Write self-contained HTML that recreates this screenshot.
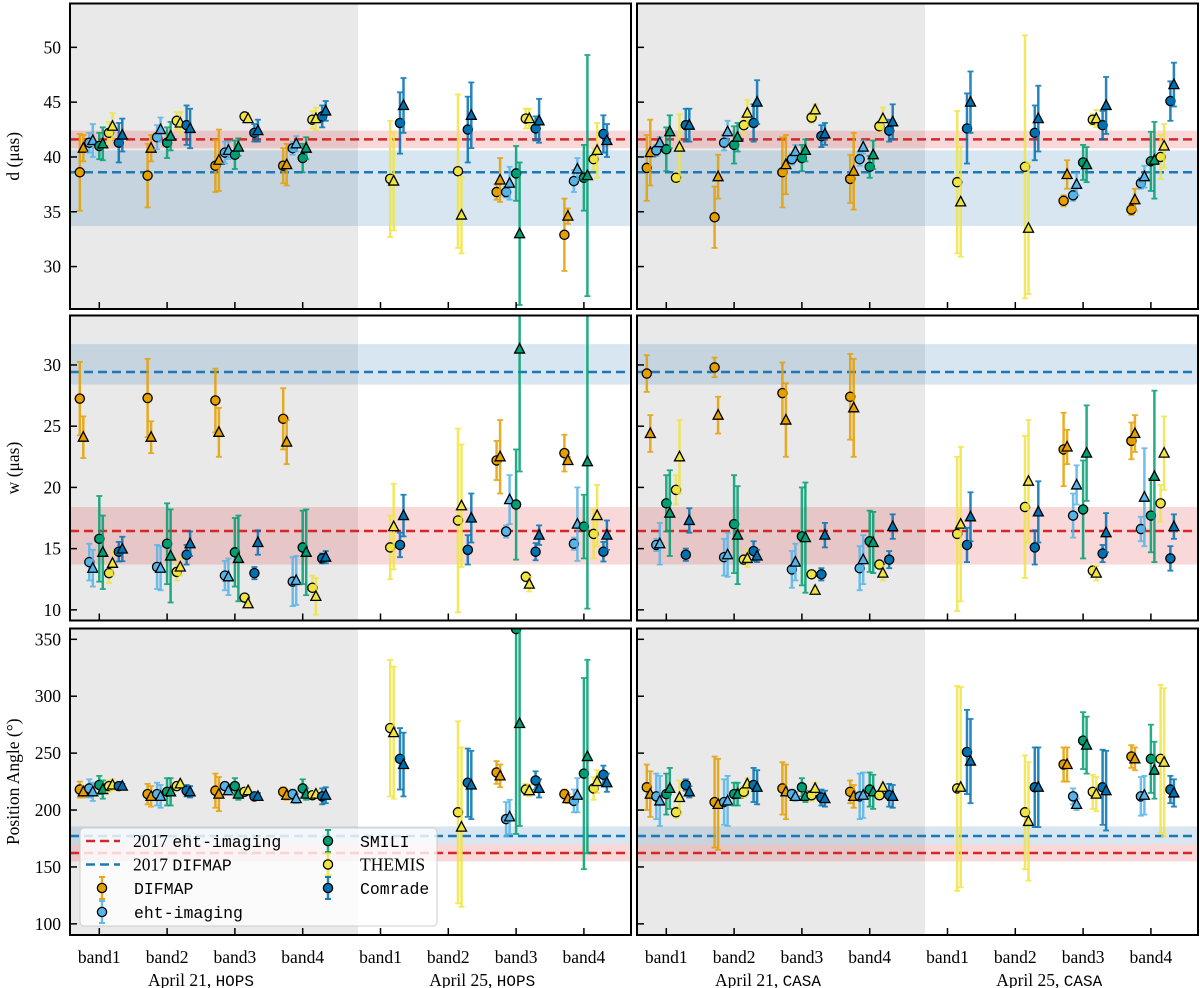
<!DOCTYPE html>
<html><head><meta charset="utf-8"><style>
html,body{margin:0;padding:0;background:#fff}
svg{display:block}
text{font-family:"Liberation Serif",serif;fill:#000}
.mono{font-family:"Liberation Mono",monospace}
</style></head><body>
<svg id="chart" width="1200" height="988" viewBox="0 0 1200 988" xmlns="http://www.w3.org/2000/svg"></svg>
<script>
// ---- data: band categories ----
const bandLabels = ["band1","band2","band3","band4","band1","band2","band3","band4"];
const dayLabels = ["April 21, ","April 25, "];
const pipelines = ["DIFMAP","eht-imaging","SMILI","THEMIS","Comrade"];
const yTicksD = [30,35,40,45,50];
const yTicksW = [10,15,20,25,30];
const yTicksPA = [100,150,200,250,300,350];
// reference 2017 values [line, lo, hi]
const refEhtD = [41.6,40.8,42.4];
const refDifD = [38.6,33.7,40.6];
const refEhtW = [16.44,13.7,18.4];
const refDifW = [29.43,28.4,31.7];
const refEhtPA = [162.2,154.9,170.1];
const refDifPA = [177.2,170.1,185.6];

// ---- d, HOPS ----
const dH_difmap_c=[38.6,38.3,39.2,39.2,null,null,36.8,32.9], dH_difmap_ce=[3.5,2.9,2.4,1.6,0,0,0.7,3.3];
const dH_difmap_t=[40.8,40.8,39.7,39.3,null,null,37.9,34.6], dH_difmap_te=[1.2,1.2,2.8,1.9,0,0,2,0.7];
const dH_eht_c=[41.3,41.8,40.4,40.8,null,null,36.8,37.8], dH_eht_ce=[0.9,1.1,1,0.6,0,0,0.5,1];
const dH_eht_t=[41.5,42.5,40.6,41.2,null,null,37.6,38.9], dH_eht_te=[1.5,1.1,0.8,0.7,0,0,1.5,1];
const dH_smili_c=[41.0,41.3,40.2,39.9,null,null,38.5,38.1], dH_smili_ce=[1.2,1.4,1.3,1.3,0,0,2.5,3];
const dH_smili_t=[41.2,41.9,40.9,40.8,null,null,33.0,38.3], dH_smili_te=[1.5,1.3,0.8,1,0,0,6.5,11];
const dH_themis_c=[42.2,43.3,43.7,43.4,38.0,38.7,43.5,39.8], dH_themis_ce=[1,0.8,0.2,0.8,5.3,7,0.9,1];
const dH_themis_t=[42.8,43.1,43.5,43.5,37.8,34.7,43.5,40.6], dH_themis_te=[1.2,1,0.3,1,4.5,3.5,0.9,2.5];
const dH_comrade_c=[41.3,42.9,42.2,43.7,43.1,42.5,42.6,42.1], dH_comrade_ce=[1.8,1.8,0.8,1,2.8,3,1.1,1.7];
const dH_comrade_t=[42.0,42.6,42.4,44.2,44.7,43.8,43.3,41.5], dH_comrade_te=[1.5,1.8,1.0,0.9,2.5,3,2,1.5];
// ---- d, CASA ----
const dC_difmap_c=[39.0,34.5,38.6,38.0,null,null,36.0,35.2], dC_difmap_ce=[3,2.8,3.2,2.2,0,0,0.5,0.5];
const dC_difmap_t=[40.4,38.2,39.3,38.7,null,null,38.4,36.1], dC_difmap_te=[3,2,2.7,3.5,0,0,1.3,1];
const dC_eht_c=[40.6,41.3,39.8,39.8,null,null,36.5,37.6], dC_eht_ce=[0.5,0.7,0.5,0.6,0,0,0.5,0.5];
const dC_eht_t=[41.3,42.3,40.5,40.9,null,null,37.5,38.2], dC_eht_te=[0.5,1,0.6,0.6,0,0,1,1];
const dC_smili_c=[40.7,41.1,39.9,39.1,null,null,39.5,39.6], dC_smili_ce=[2,1.7,1.2,1,0,0,1.6,2.7];
const dC_smili_t=[42.3,41.8,40.6,40.2,null,null,39.3,39.7], dC_smili_te=[1.5,1.3,1,1.3,0,0,1.6,3.5];
const dC_themis_c=[38.1,42.9,43.6,42.8,37.7,39.1,43.4,40.0], dC_themis_ce=[0.5,0.8,0.5,0.5,6.5,12,0.5,2];
const dC_themis_t=[40.9,44.0,44.3,43.5,35.9,33.5,43.5,41.0], dC_themis_te=[3,1.2,0.5,1,5,6,0.8,2];
const dC_comrade_c=[42.9,43.1,41.9,42.4,42.6,42.2,42.9,45.1], dC_comrade_ce=[1.5,1.7,1,1,3.2,2.5,1.3,1.8];
const dC_comrade_t=[42.9,45.0,42.1,43.2,45.0,43.5,44.7,46.6], dC_comrade_te=[1.5,2,1,1.6,2.8,3,2.6,2];
// ---- w, HOPS ----
const wH_difmap_c=[27.25,27.3,27.1,25.6,null,null,22.2,22.8], wH_difmap_ce=[3,3.2,2.6,2.5,0,0,1.6,1.5];
const wH_difmap_t=[24.1,24.1,24.5,23.7,null,null,22.5,22.2], wH_difmap_te=[1.7,1.3,2,1.8,0,0,3,0.3];
const wH_eht_c=[13.9,13.5,12.8,12.3,null,null,16.4,15.4], wH_eht_ce=[1.5,1.8,1.2,2,0,0,0.5,0.5];
const wH_eht_t=[13.4,13.4,12.7,12.4,null,null,19.0,17.0], wH_eht_te=[1.5,1.8,1.5,2,0,0,2,3];
const wH_smili_c=[15.8,15.4,14.7,15.1,null,null,18.6,16.8], wH_smili_ce=[3.5,3.3,2.8,3,0,0,4.5,2.6];
const wH_smili_t=[14.7,14.4,14.2,14.7,null,null,31.3,22.1], wH_smili_te=[3,3.8,3.5,3.5,0,0,10,12];
const wH_themis_c=[13.0,13.1,11.0,11.8,15.1,17.3,12.7,16.2], wH_themis_ce=[0.8,0.7,0.3,1,2.6,7.5,0.4,2];
const wH_themis_t=[13.8,13.5,10.5,11.1,16.8,18.5,12.1,17.7], wH_themis_te=[1,0.7,0.3,1.5,3.5,5,0.6,2.5];
const wH_comrade_c=[14.75,14.5,13.0,14.2,15.3,14.9,14.75,14.75], wH_comrade_ce=[0.8,0.8,0.5,0.4,1,1.2,0.7,0.8];
const wH_comrade_t=[14.97,15.4,15.5,14.3,17.7,17.5,16.1,16.1], wH_comrade_te=[1,1,1,0.5,1.7,2,0.8,1.2];
// ---- w, CASA ----
const wC_difmap_c=[29.3,29.8,27.7,27.4,null,null,23.1,23.8], wC_difmap_ce=[1.5,0.8,2.5,3.5,0,0,3,1.5];
const wC_difmap_t=[24.4,25.9,25.5,26.5,null,null,23.3,24.4], wC_difmap_te=[1.5,1.5,3,4,0,0,1.4,1.5];
const wC_eht_c=[15.3,14.3,13.3,13.4,null,null,17.7,16.6], wC_eht_ce=[0.5,1.5,1.5,1.8,0,0,1.8,1];
const wC_eht_t=[15.4,14.5,13.9,14.1,null,null,20.2,19.2], wC_eht_te=[1.7,1.8,1.5,2,0,0,1.6,4];
const wC_smili_c=[18.7,17.0,16.0,15.6,null,null,18.2,17.7], wC_smili_ce=[2.3,4,4,2.5,0,0,4,3];
const wC_smili_t=[17.9,16.1,15.9,15.5,null,null,22.8,20.9], wC_smili_te=[3.5,4,4.5,2.5,0,0,3.9,7];
const wC_themis_c=[19.8,14.1,12.9,13.7,16.2,18.4,13.2,18.7], wC_themis_ce=[1.2,0.3,0.2,0.3,6.3,5.8,0.4,1.5];
const wC_themis_t=[22.5,14.2,11.6,13.0,17.0,20.5,13.0,22.8], wC_themis_te=[3,0.7,0.3,0.6,6.3,5,0.6,3];
const wC_comrade_c=[14.5,14.8,12.9,14.1,15.3,15.1,14.6,14.2], wC_comrade_ce=[0.5,0.8,0.5,0.7,1.4,1.4,0.7,1];
const wC_comrade_t=[17.3,14.4,16.1,16.8,17.6,18.0,16.3,16.8], wC_comrade_te=[1,0.5,1,1,2,2.5,1.6,1];
// ---- PA, HOPS ----
const pH_difmap_c=[218,214,217,216,null,null,233,214], pH_difmap_ce=[7,9,15,4,0,0,10,4];
const pH_difmap_t=[216,212,214,213,null,null,230,210], pH_difmap_te=[5,9,15,4,0,0,10,4];
const pH_eht_c=[219,214,221,214,null,null,192,208], pH_eht_ce=[8,10,3,4,0,0,15,10];
const pH_eht_t=[216,212,217,210,null,null,194,213], pH_eht_te=[8,10,3,4,0,0,15,15];
const pH_smili_c=[222,216,221,219,null,null,359,232], pH_smili_ce=[8,12,7,8,0,0,180,84];
const pH_smili_t=[218,216,214,214,null,null,276,247], pH_smili_te=[8,12,5,5,0,0,90,85];
const pH_themis_c=[221,221,216,213,272,198,218,219], pH_themis_ce=[5,3,3,3,60,80,5,10];
const pH_themis_t=[222,223,217,214,268,185,217,225], pH_themis_te=[5,3,3,3,58,70,5,10];
const pH_comrade_c=[221,217,212,212,245,224,226,231], pH_comrade_ce=[2,5,3,7,27,30,8,8];
const pH_comrade_t=[221,216,212,213,240,222,219,224], pH_comrade_te=[2,5,3,7,28,30,8,8];
// ---- PA, CASA ----
const pC_difmap_c=[220,207,219,216,null,null,240,247], pC_difmap_ce=[20,40,23,10,0,0,15,10];
const pC_difmap_t=[214,205,216,212,null,null,240,245], pC_difmap_te=[20,40,24,10,0,0,15,10];
const pC_eht_c=[212,207,214,212,null,null,212,212], pC_eht_ce=[20,20,4,20,0,0,7,17];
const pC_eht_t=[208,208,212,213,null,null,205,213], pC_eht_te=[22,22,4,20,0,0,5,17];
const pC_smili_c=[214,214,220,218,null,null,261,245], pC_smili_ce=[18,10,8,15,0,0,25,30];
const pC_smili_t=[219,214,212,216,null,null,257,235], pC_smili_te=[18,10,5,15,0,0,25,25];
const pC_themis_c=[198,216,213,213,219,198,216,245], pC_themis_ce=[5,5,5,3,90,50,15,65];
const pC_themis_t=[211,223,219,220,220,190,214,242], pC_themis_te=[15,5,5,3,88,52,15,65];
const pC_comrade_c=[222,222,211,213,251,220,220,218], pC_comrade_ce=[5,15,7,10,37,35,33,12];
const pC_comrade_t=[216,220,210,212,243,220,217,215], pC_comrade_te=[5,15,7,10,37,35,35,12];

// ---- layout ----
const NS="http://www.w3.org/2000/svg";
const svg=document.getElementById('chart');
const colors=["#E69F00","#56B4E9","#009E73","#F0E442","#0072B2"];
const offs=[-19.5,-10,0,9.7,19.5];
const colX=[70,637], panelW=561;
const rows=[{top:3.5,bot:309,min:26.13,max:54,ticks:yTicksD,eht:refEhtD,dif:refDifD,label:"d (\u03bcas)",key:"d"},
            {top:315.5,bot:620.5,min:9.13,max:34.04,ticks:yTicksW,eht:refEhtW,dif:refDifW,label:"w (\u03bcas)",key:"w"},
            {top:628.5,bot:935,min:90.2,max:359.5,ticks:yTicksPA,eht:refEhtPA,dif:refDifPA,label:"Position Angle (\u00b0)",key:"pa"}];
const series={
 "d0":[[dH_difmap_c,dH_difmap_ce,dH_difmap_t,dH_difmap_te],[dH_eht_c,dH_eht_ce,dH_eht_t,dH_eht_te],[dH_smili_c,dH_smili_ce,dH_smili_t,dH_smili_te],[dH_themis_c,dH_themis_ce,dH_themis_t,dH_themis_te],[dH_comrade_c,dH_comrade_ce,dH_comrade_t,dH_comrade_te]],
 "d1":[[dC_difmap_c,dC_difmap_ce,dC_difmap_t,dC_difmap_te],[dC_eht_c,dC_eht_ce,dC_eht_t,dC_eht_te],[dC_smili_c,dC_smili_ce,dC_smili_t,dC_smili_te],[dC_themis_c,dC_themis_ce,dC_themis_t,dC_themis_te],[dC_comrade_c,dC_comrade_ce,dC_comrade_t,dC_comrade_te]],
 "w0":[[wH_difmap_c,wH_difmap_ce,wH_difmap_t,wH_difmap_te],[wH_eht_c,wH_eht_ce,wH_eht_t,wH_eht_te],[wH_smili_c,wH_smili_ce,wH_smili_t,wH_smili_te],[wH_themis_c,wH_themis_ce,wH_themis_t,wH_themis_te],[wH_comrade_c,wH_comrade_ce,wH_comrade_t,wH_comrade_te]],
 "w1":[[wC_difmap_c,wC_difmap_ce,wC_difmap_t,wC_difmap_te],[wC_eht_c,wC_eht_ce,wC_eht_t,wC_eht_te],[wC_smili_c,wC_smili_ce,wC_smili_t,wC_smili_te],[wC_themis_c,wC_themis_ce,wC_themis_t,wC_themis_te],[wC_comrade_c,wC_comrade_ce,wC_comrade_t,wC_comrade_te]],
 "pa0":[[pH_difmap_c,pH_difmap_ce,pH_difmap_t,pH_difmap_te],[pH_eht_c,pH_eht_ce,pH_eht_t,pH_eht_te],[pH_smili_c,pH_smili_ce,pH_smili_t,pH_smili_te],[pH_themis_c,pH_themis_ce,pH_themis_t,pH_themis_te],[pH_comrade_c,pH_comrade_ce,pH_comrade_t,pH_comrade_te]],
 "pa1":[[pC_difmap_c,pC_difmap_ce,pC_difmap_t,pC_difmap_te],[pC_eht_c,pC_eht_ce,pC_eht_t,pC_eht_te],[pC_smili_c,pC_smili_ce,pC_smili_t,pC_smili_te],[pC_themis_c,pC_themis_ce,pC_themis_t,pC_themis_te],[pC_comrade_c,pC_comrade_ce,pC_comrade_t,pC_comrade_te]]
};
function el(tag,attrs,parent){const e=document.createElementNS(NS,tag);for(const k in attrs)e.setAttribute(k,attrs[k]);(parent||svg).appendChild(e);return e;}
function xBand(col,i){return colX[col]+(i<4?29.3+67.8*i:310.5+67.8*(i-4));}

const defs=el('defs',{});
rows.forEach((r,ri)=>{
 const yS=v=>r.bot-(v-r.min)/(r.max-r.min)*(r.bot-r.top);
 for(let c=0;c<2;c++){
  const x0=colX[c];
  const cp=el('clipPath',{id:'clip'+ri+c},defs);
  el('rect',{x:x0,y:r.top,width:panelW,height:r.bot-r.top},cp);
  const g=el('g',{'clip-path':'url(#clip'+ri+c+')'});
  
  
  const gray=el('rect',{x:x0,y:r.top,width:288,height:r.bot-r.top,fill:'#e9e9e9'},g);
  
  
  const bb=el('rect',{x:x0,y:yS(r.dif[2]),width:panelW,height:yS(r.dif[1])-yS(r.dif[2]),fill:'rgba(31,119,180,0.18)'},g);
  
  
  const rb=el('rect',{x:x0,y:yS(r.eht[2]),width:panelW,height:yS(r.eht[1])-yS(r.eht[2]),fill:'rgba(214,39,40,0.18)'},g);
  
  
  const rl=el('line',{x1:x0,x2:x0+panelW,y1:yS(r.eht[0]),y2:yS(r.eht[0]),stroke:'#d62728','stroke-width':2.5,'stroke-dasharray':'9,5'},g);
  
  
  const bl=el('line',{x1:x0,x2:x0+panelW,y1:yS(r.dif[0]),y2:yS(r.dif[0]),stroke:'#1f77b4','stroke-width':2.5,'stroke-dasharray':'9,5'},g);
  
  
  const S=series[r.key+c];
  S.forEach((p,pi)=>{
   for(let b=0;b<8;b++){
    for(let m=0;m<2;m++){
     const v=p[m*2][b]; if(v===null||v===undefined) continue;
     const e=p[m*2+1][b];
     const x=xBand(c,b)+offs[pi]+(m?3.5:0);
     const eg=el('g',{stroke:colors[pi],'stroke-width':2.5,opacity:0.85},g);
     
     
     el('line',{x1:x,x2:x,y1:yS(v-e),y2:yS(v+e)},eg);
     el('line',{x1:x-3,x2:x+3,y1:yS(v-e),y2:yS(v-e),'stroke-width':1.8},eg);
     el('line',{x1:x-3,x2:x+3,y1:yS(v+e),y2:yS(v+e),'stroke-width':1.8},eg);
     const y=yS(v); let mk;
     if(m===0) mk=el('circle',{cx:x,cy:y,r:4.6,fill:colors[pi],stroke:'#000','stroke-width':1.3},g);
     else mk=el('polygon',{points:`${x},${y-5.5} ${x-5},${y+4} ${x+5},${y+4}`,fill:colors[pi],stroke:'#000','stroke-width':1.3},g);
     
     
    }
   }
  });
  // ticks
  r.ticks.forEach(t=>{
   const y=yS(t);
   el('line',{x1:x0,x2:x0+7,y1:y,y2:y,stroke:'#000','stroke-width':1.5});
   if(c===0){const tx=el('text',{x:x0-9,y:y+6,'text-anchor':'end','font-size':17.5});tx.textContent=t;
    
    }
  });
  for(let b=0;b<8;b++){const x=xBand(c,b);el('line',{x1:x,x2:x,y1:r.bot,y2:r.bot-7,stroke:'#000','stroke-width':1.5});}
  const fr=el('rect',{x:x0,y:r.top,width:panelW,height:r.bot-r.top,fill:'none',stroke:'#000','stroke-width':2});
  
  
 }
 const yl=el('text',{x:0,y:0,'text-anchor':'middle','font-size':17.5,transform:`translate(19,${(r.top+r.bot)/2}) rotate(-90)`});
 yl.textContent=r.label;
 
 
});
// x labels
for(let c=0;c<2;c++){
 for(let b=0;b<8;b++){
  const t=el('text',{x:xBand(c,b),y:963,'text-anchor':'middle','font-size':17.5});t.textContent=bandLabels[b];
  
  
 }
 for(let d=0;d<2;d++){
  const cx=(xBand(c,d*4)+xBand(c,d*4+3))/2;
  const t=el('text',{x:cx,y:986,'text-anchor':'middle','font-size':17.5});
  
  
  const s1=el('tspan',{},t);s1.textContent=dayLabels[d];
  const s2=el('tspan',{class:'mono','font-size':16},t);s2.textContent=c?'CASA':'HOPS';
 }
}
// legend
const lg=el('g',{});


el('rect',{x:80,y:828,width:357,height:98,rx:4,fill:'rgba(255,255,255,0.8)',stroke:'#cccccc','stroke-width':1},lg);
const lrows=[841,864.5,888,912];
[['#d62728','2017 ','eht-imaging'],['#1f77b4','2017 ','DIFMAP']].forEach((it,i)=>{
 const y=lrows[i];
 const ln=el('line',{x1:86,x2:120,y1:y,y2:y,stroke:it[0],'stroke-width':2.5,'stroke-dasharray':'9,5'},lg);
 
 
 const t=el('text',{x:133,y:y+6,'font-size':17.5},lg);
 const a=el('tspan',{},t);a.textContent=it[1];
 const b=el('tspan',{class:'mono','font-size':16.5},t);b.textContent=it[2];
 
 
});
const legPos=[[102,lrows[2]],[102,lrows[3]],[328,lrows[0]],[328,lrows[1]],[328,lrows[2]]];
pipelines.forEach((p,pi)=>{
 const [x,y]=legPos[pi];
 el('line',{x1:x,x2:x,y1:y-11,y2:y+11,stroke:colors[pi],'stroke-width':2.5,opacity:0.85},lg);
 el('line',{x1:x-3,x2:x+3,y1:y-11,y2:y-11,stroke:colors[pi],'stroke-width':1.8},lg);
 el('line',{x1:x-3,x2:x+3,y1:y+11,y2:y+11,stroke:colors[pi],'stroke-width':1.8},lg);
 el('circle',{cx:x,cy:y,r:4.6,fill:colors[pi],stroke:'#000','stroke-width':1.3},lg);
 const t=el('text',{x:x+32,y:y+6,'font-size':p==='THEMIS'?17.5:16.5,class:p==='THEMIS'?'':'mono'},lg);
 t.textContent=p;
 
 
});
</script>
</body></html>
